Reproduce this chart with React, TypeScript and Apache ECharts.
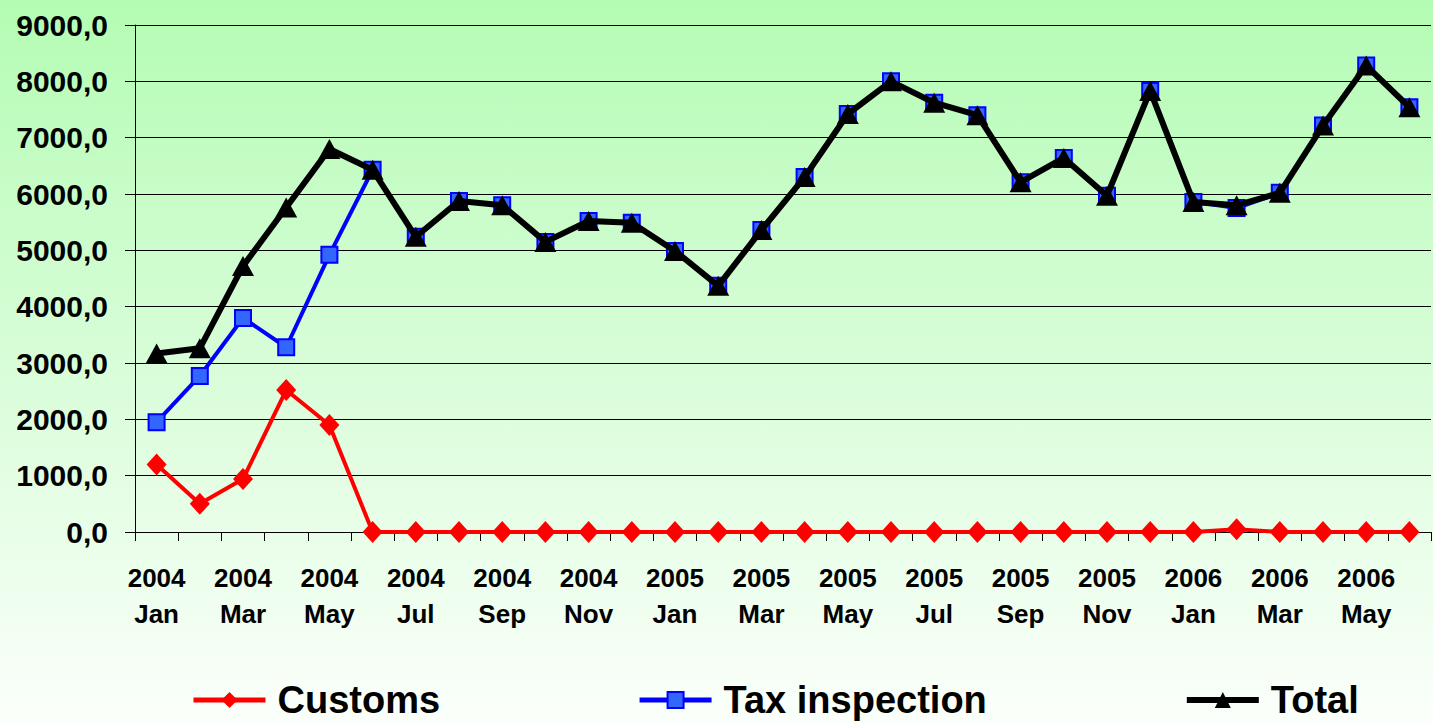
import React, { useEffect, useRef } from "react";
import * as echarts from "echarts";

const years = ["2004","2004","2004","2004","2004","2004","2004","2004","2004","2004","2004","2004",
  "2005","2005","2005","2005","2005","2005","2005","2005","2005","2005","2005","2005",
  "2006","2006","2006","2006","2006","2006"];
const months = ["Jan","Feb","Mar","Apr","May","Jun","Jul","Aug","Sep","Oct","Nov","Dec",
  "Jan","Feb","Mar","Apr","May","Jun","Jul","Aug","Sep","Oct","Nov","Dec",
  "Jan","Feb","Mar","Apr","May","Jun"];

const customs = [1200, 500, 940, 2520, 1900, 0, 0, 0, 0, 0, 0, 0,
  0, 0, 0, 0, 0, 0, 0, 0, 0, 0, 0, 0,
  0, 50, 0, 0, 0, 0];
const taxInspection = [1950, 2770, 3800, 3280, 4920, 6430, 5240, 5875, 5800, 5150, 5520, 5490,
  4990, 4370, 5360, 6300, 7420, 8000, 7620, 7400, 6210, 6640, 5970, 7830,
  5860, 5750, 6020, 7215, 8280, 7540];
const total = [3170, 3260, 4720, 5760, 6800, 6430, 5240, 5875, 5800, 5150, 5520, 5490,
  4990, 4370, 5360, 6300, 7420, 8000, 7620, 7400, 6210, 6640, 5970, 7830,
  5860, 5800, 6020, 7215, 8280, 7540];

const yTicks = { min: 0, max: 9000, interval: 1000 };

const FONT = "Arial, 'Liberation Sans', sans-serif";

export default function App() {
  const ref = useRef<HTMLDivElement>(null);
  useEffect(() => {
    document.body.style.margin = "0";
    if (!ref.current) return;
    const chart = echarts.init(ref.current, null, { renderer: "svg" });
    const categories = years.map((y, i) => y + "\n" + months[i]);
    chart.setOption({
      animation: false,
      backgroundColor: new echarts.graphic.LinearGradient(0, 0, 0, 1, [
        { offset: 0, color: "#b4fcb4" },
        { offset: 0.5, color: "#d8fdd8" },
        { offset: 1, color: "#fbfffb" },
      ]),
      grid: { left: 135, top: 25, right: 2, bottom: 191, containLabel: false },
      legend: {
        left: 186,
        top: 676,
        itemGap: 197,
        itemWidth: 72,
        itemHeight: 20,
        textStyle: {
          fontFamily: FONT,
          fontWeight: "bold",
          fontSize: 38,
          lineHeight: 38,
          color: "#000",
          padding: [0, 0, 0, 7],
        },
        data: [
          { name: "Customs", lineStyle: { width: 5 } },
          { name: "Tax inspection", lineStyle: { width: 5 } },
          { name: "Total", lineStyle: { width: 6 } },
        ],
      },
      xAxis: {
        type: "category",
        data: categories,
        boundaryGap: true,
        axisLine: { lineStyle: { color: "#000", width: 1 } },
        axisTick: { show: true, interval: 0, length: 9, lineStyle: { color: "#000" } },
        axisLabel: {
          interval: 1,
          margin: 28,
          fontFamily: FONT,
          fontWeight: "bold",
          fontSize: 26,
          lineHeight: 36,
          color: "#000",
        },
        splitLine: { show: false },
      },
      yAxis: {
        type: "value",
        min: yTicks.min,
        max: yTicks.max,
        interval: yTicks.interval,
        axisLine: { show: true, lineStyle: { color: "#000", width: 1 } },
        axisTick: { show: true, length: 10, lineStyle: { color: "#000" } },
        axisLabel: {
          margin: 27,
          fontFamily: FONT,
          fontWeight: "bold",
          fontSize: 30,
          color: "#000",
          formatter: (v: number) => v.toFixed(1).replace(".", ","),
        },
        splitLine: { show: true, lineStyle: { color: "#000", width: 1 } },
      },
      series: [
        {
          name: "Customs",
          type: "line",
          data: customs,
          symbol: "diamond",
          symbolSize: [20, 22],
          lineStyle: { color: "#ff0000", width: 4 },
          itemStyle: { color: "#ff0000", borderColor: "#ff0000", borderWidth: 0 },
          z: 2,
        },
        {
          name: "Tax inspection",
          type: "line",
          data: taxInspection,
          symbol: "rect",
          symbolSize: 16,
          lineStyle: { color: "#0000ff", width: 4 },
          itemStyle: { color: "#3366ff", borderColor: "#0000ff", borderWidth: 2 },
          z: 3,
        },
        {
          name: "Total",
          type: "line",
          data: total,
          symbol: "triangle",
          symbolSize: [22, 20],
          lineStyle: { color: "#000000", width: 6 },
          itemStyle: { color: "#000000", borderWidth: 0 },
          z: 4,
        },
      ],
    });
    return () => chart.dispose();
  }, []);
  return <div ref={ref} style={{ width: 1433, height: 723 }} />;
}
